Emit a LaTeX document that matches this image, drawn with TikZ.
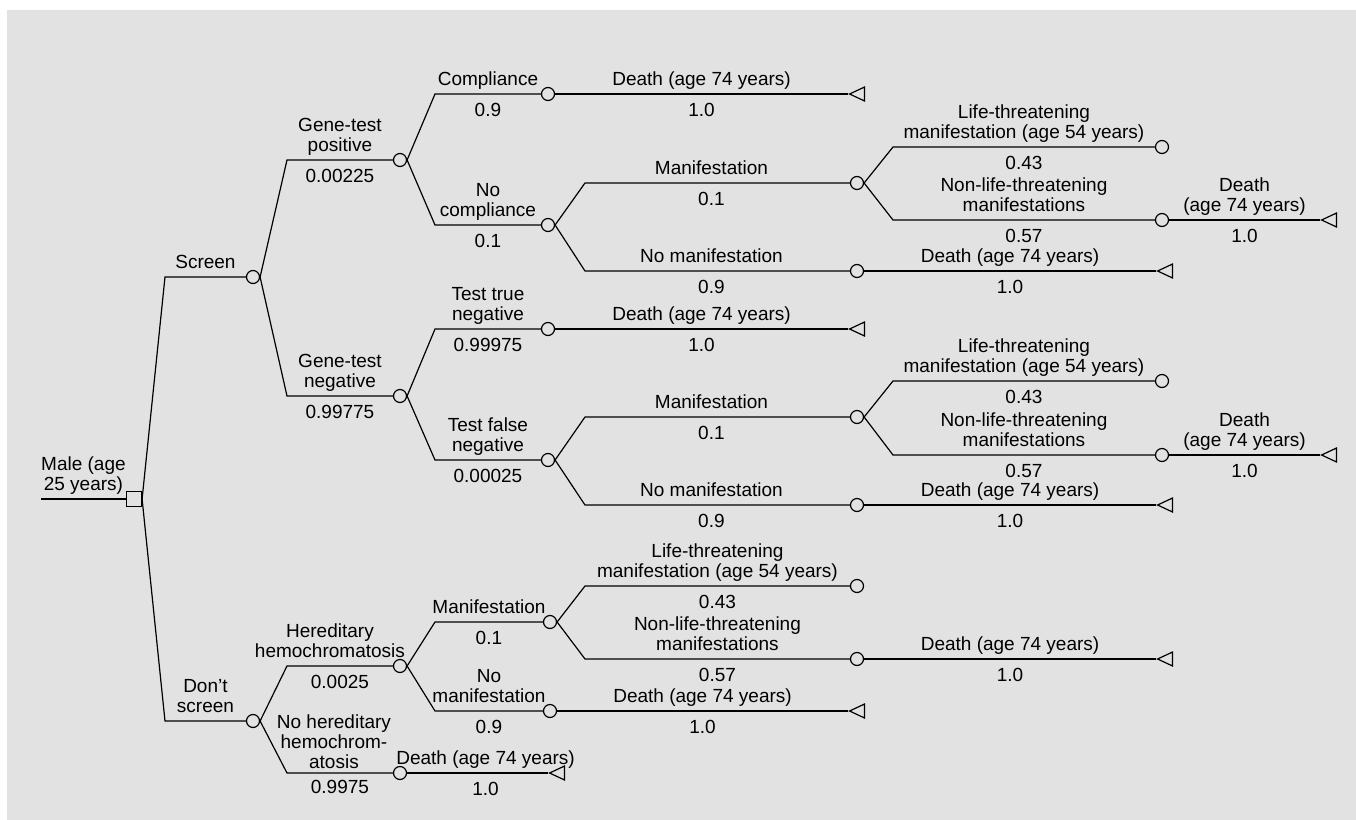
\documentclass[tikz,border=0pt]{standalone}
\usepackage{fontspec}
\setmainfont{Liberation Sans}
\usepackage{tikz}
\usetikzlibrary{shapes.geometric}
\definecolor{treegray}{RGB}{226, 226, 226}

\begin{document}
\begin{tikzpicture}[x=0.5pt, y=-0.5pt, line width=0.6pt,
    chance/.style={circle, draw, fill=treegray, inner sep=0pt, minimum size=6.5pt},
    decision/.style={rectangle, draw, fill=treegray, inner sep=0pt, minimum size=7.5pt},
    terminal/.style={isosceles triangle, isosceles triangle stretches, shape border rotate=180,
        draw, fill=treegray, inner sep=0pt, minimum width=7pt, minimum height=7.5pt, anchor=apex},
    lab/.style={font=\fontsize{9.5}{10}\selectfont, align=center, inner sep=0pt, midway, anchor=base},
    up/.style={lab, yshift=4.25pt},
    dn/.style={lab, yshift=-11pt}]
        \useasboundingbox (0,0) rectangle (1356,820);
        \fill[treegray] (7,10) rectangle (1356,820);

        % Columns where the branches turn horizontal
        \coordinate (in) at (41,499);
        \coordinate (k1) at (165,0);
        \coordinate (k2) at (287,0);
        \coordinate (k3) at (435,0);
        \coordinate (k4) at (585,0);
        \coordinate (k5) at (893,0);

        % Decision and chance nodes
        \node[decision] (root) at (134,499) {};
        \node[chance] (scr) at (253,277) {};
        \node[chance] (dscr) at (253,721) {};
        \node[chance] (gpos) at (400,160) {};
        \node[chance] (gneg) at (400,396) {};
        \node[chance] (hh) at (400,666) {};
        \node[chance] (nhh) at (400,773) {};
        \node[chance] (comp) at (548,94) {};
        \node[chance] (ncomp) at (548,225) {};
        \node[chance] (ttn) at (548,329) {};
        \node[chance] (tfn) at (548,460) {};
        \node[chance] (hman) at (550,622) {};
        \node[chance] (hnman) at (550,711) {};
        \node[chance] (man1) at (857,183) {};
        \node[chance] (nman1) at (857,271) {};
        \node[chance] (man2) at (857,417) {};
        \node[chance] (nman2) at (857,505) {};
        \node[chance] (lt3) at (857,586) {};
        \node[chance] (nlt3) at (857,659) {};
        \node[chance] (lt1) at (1162,147) {};
        \node[chance] (nlt1) at (1162,220) {};
        \node[chance] (lt2) at (1162,381) {};
        \node[chance] (nlt2) at (1162,455) {};

        % Terminal nodes
        \node[terminal] (tComp) at (848,94) {};
        \node[terminal] (tTtn) at (848,329) {};
        \node[terminal] (tHnman) at (848,711) {};
        \node[terminal] (tNhh) at (548,773) {};
        \node[terminal] (tNman1) at (1156,271) {};
        \node[terminal] (tNman2) at (1156,505) {};
        \node[terminal] (tNlt3) at (1156,659) {};
        \node[terminal] (tNlt1) at (1320,220) {};
        \node[terminal] (tNlt2) at (1320,455) {};

        % Root
        \draw (in) -- node[up] (lMale) {Male (age\\25 years)} (root);
        \draw (root.east) -- (scr -| k1) -- node[up] (lScr) {Screen} (scr);
        \draw (root.east) -- (dscr -| k1) -- node[up] (lDscr) {Don’t\\screen} (dscr);

        % Screen
        \draw (scr.east) -- (gpos -| k2) -- node[up] (lGpos) {Gene-test\\positive} node[dn] (pGpos) {0.00225} (gpos);
        \draw (scr.east) -- (gneg -| k2) -- node[up] (lGneg) {Gene-test\\negative} node[dn] (pGneg) {0.99775} (gneg);

        % Gene-test positive
        \draw (gpos.east) -- (comp -| k3) -- node[up] (lComp) {Compliance} node[dn] (pComp) {0.9} (comp);
        \draw (gpos.east) -- (ncomp -| k3) -- node[up] (lNcomp) {No\\compliance} node[dn] (pNcomp) {0.1} (ncomp);
        \draw (comp.east) -- node[up] (dComp) {Death (age 74 years)} node[dn] (qComp) {1.0} (tComp.apex);
        \draw (ncomp.east) -- (man1 -| k4) -- node[up, xshift=-3pt] (lMan1) {Manifestation} node[dn, xshift=-3pt] (pMan1) {0.1} (man1);
        \draw (ncomp.east) -- (nman1 -| k4) -- node[up, xshift=-3pt] (lNman1) {No manifestation} node[dn, xshift=-3pt] (pNman1) {0.9} (nman1);
        \draw (nman1.east) -- node[up] (dNman1) {Death (age 74 years)} node[dn] (qNman1) {1.0} (tNman1.apex);
        \draw (man1.east) -- (lt1 -| k5) -- node[up] (lLt1) {Life-threatening\\manifestation (age 54 years)} node[dn] (pLt1) {0.43} (lt1);
        \draw (man1.east) -- (nlt1 -| k5) -- node[up] (lNlt1) {Non-life-threatening\\manifestations} node[dn] (pNlt1) {0.57} (nlt1);
        \draw (nlt1.east) -- node[up] (dNlt1) {Death\\(age 74 years)} node[dn] (qNlt1) {1.0} (tNlt1.apex);

        % Gene-test negative
        \draw (gneg.east) -- (ttn -| k3) -- node[up] (lTtn) {Test true\\negative} node[dn] (pTtn) {0.99975} (ttn);
        \draw (gneg.east) -- (tfn -| k3) -- node[up] (lTfn) {Test false\\negative} node[dn] (pTfn) {0.00025} (tfn);
        \draw (ttn.east) -- node[up] (dTtn) {Death (age 74 years)} node[dn] (qTtn) {1.0} (tTtn.apex);
        \draw (tfn.east) -- (man2 -| k4) -- node[up, xshift=-3pt] (lMan2) {Manifestation} node[dn, xshift=-3pt] (pMan2) {0.1} (man2);
        \draw (tfn.east) -- (nman2 -| k4) -- node[up, xshift=-3pt] (lNman2) {No manifestation} node[dn, xshift=-3pt] (pNman2) {0.9} (nman2);
        \draw (nman2.east) -- node[up] (dNman2) {Death (age 74 years)} node[dn] (qNman2) {1.0} (tNman2.apex);
        \draw (man2.east) -- (lt2 -| k5) -- node[up] (lLt2) {Life-threatening\\manifestation (age 54 years)} node[dn] (pLt2) {0.43} (lt2);
        \draw (man2.east) -- (nlt2 -| k5) -- node[up] (lNlt2) {Non-life-threatening\\manifestations} node[dn] (pNlt2) {0.57} (nlt2);
        \draw (nlt2.east) -- node[up] (dNlt2) {Death\\(age 74 years)} node[dn] (qNlt2) {1.0} (tNlt2.apex);

        % Don't screen
        \draw (dscr.east) -- (hh -| k2) -- node[up, xshift=-5pt] (lHh) {Hereditary\\hemochromatosis} node[dn] (pHh) {0.0025} (hh);
        \draw (dscr.east) -- (nhh -| k2) -- node[up, xshift=-3pt, yshift=-2pt] (lNhh) {No hereditary\\hemochrom-\\atosis} node[dn, yshift=1pt] (pNhh) {0.9975} (nhh);
        \draw (nhh.east) -- node[up, xshift=4pt] (dNhh) {Death (age 74 years)} node[dn, xshift=4pt] (qNhh) {1.0} (tNhh.apex);
        \draw (hh.east) -- (hman -| k3) -- node[up] (lHman) {Manifestation} node[dn] (pHman) {0.1} (hman);
        \draw (hh.east) -- (hnman -| k3) -- node[up] (lHnman) {No\\manifestation} node[dn] (pHnman) {0.9} (hnman);
        \draw (hnman.east) -- node[up] (dHnman) {Death (age 74 years)} node[dn] (qHnman) {1.0} (tHnman.apex);
        \draw (hman.east) -- (lt3 -| k4) -- node[up] (lLt3) {Life-threatening\\manifestation (age 54 years)} node[dn] (pLt3) {0.43} (lt3);
        \draw (hman.east) -- (nlt3 -| k4) -- node[up] (lNlt3) {Non-life-threatening\\manifestations} node[dn] (pNlt3) {0.57} (nlt3);
        \draw (nlt3.east) -- node[up] (dNlt3) {Death (age 74 years)} node[dn] (qNlt3) {1.0} (tNlt3.apex);
    \end{tikzpicture}
\end{document}
